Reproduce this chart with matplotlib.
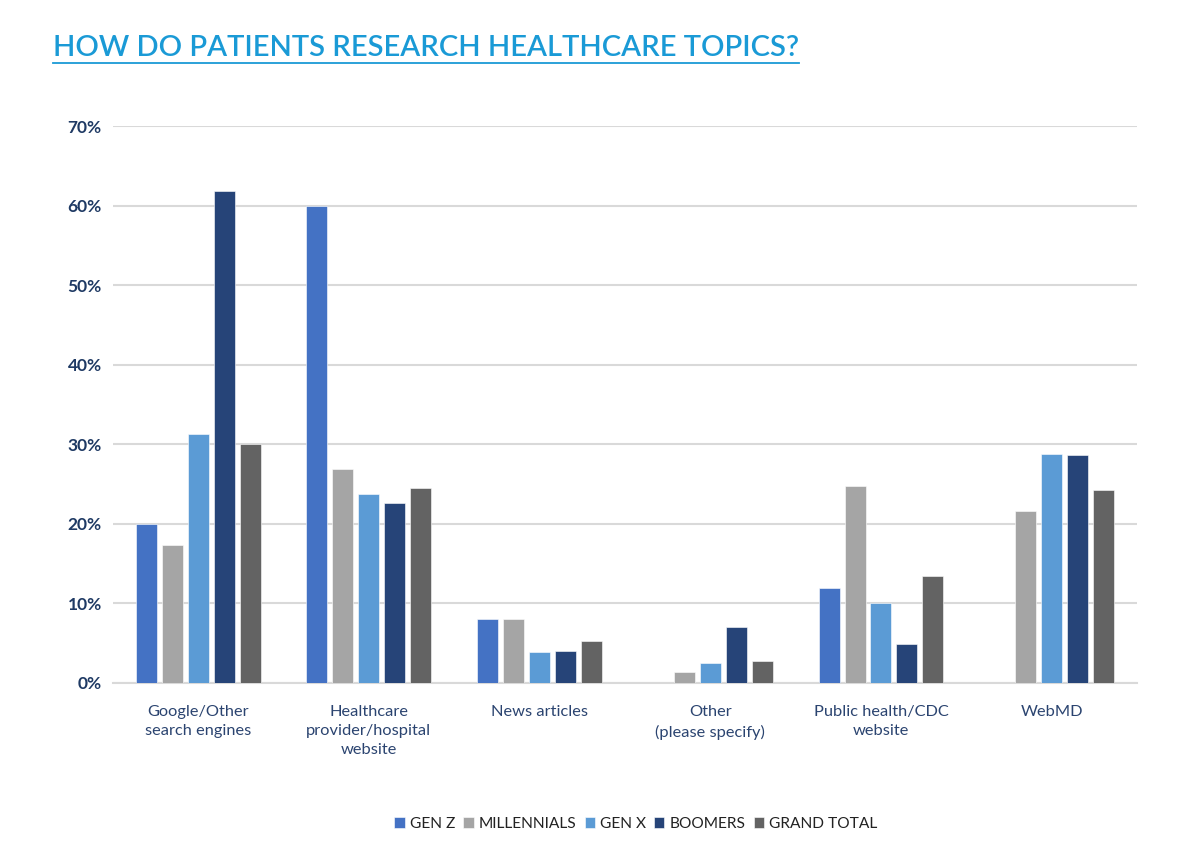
import numpy as np
import matplotlib
matplotlib.use("Agg")
import matplotlib.pyplot as plt
from matplotlib.lines import Line2D

plt.rcParams["font.family"] = ["Lato", "DejaVu Sans"]

categories = ["Google/Other\nsearch engines", "Healthcare\nprovider/hospital\nwebsite",
              "News articles", "Other\n(please specify)", "Public health/CDC\nwebsite", "WebMD"]
series = ["GEN Z", "MILLENNIALS", "GEN X", "BOOMERS", "GRAND TOTAL"]
gen_z = [20.0, 60.0, 8.0, 0.0, 11.9, 0.0]
millennials = [17.4, 26.9, 8.1, 1.35, 24.8, 21.6]
gen_x = [31.3, 23.8, 3.9, 2.5, 10.0, 28.8]
boomers = [61.8, 22.6, 4.0, 7.0, 4.9, 28.7]
grand_total = [30.0, 24.5, 5.3, 2.8, 13.4, 24.2]
colors = ["#4472C4", "#A5A5A5", "#5B9BD5", "#264478", "#636363"]

fig = plt.figure(figsize=(12, 8.55), dpi=100)
ax = fig.add_axes([0.094, 0.2012, 0.8535, 0.6514])

x = np.arange(len(categories))
width = 0.123
step = 0.152
for i, (name, vals) in enumerate(zip(series, [gen_z, millennials, gen_x, boomers, grand_total])):
    ax.bar(x + (i - 2) * step, vals, width, color=colors[i], label=name, zorder=3,
           edgecolor="white", linewidth=0.4)

ax.set_xlim(-0.5, len(categories) - 0.5)
ax.set_ylim(0, 70)
ax.set_yticks(np.arange(0, 71, 10))
ax.set_yticklabels([f"{v}%" for v in range(0, 71, 10)], fontsize=12.5,
                   fontweight="bold", color="#1F3A64")
ax.set_xticks(x)
ax.set_xticklabels(categories, fontsize=11.8, color="#2B4470", linespacing=1.45)
ax.tick_params(axis="both", length=0)
ax.tick_params(axis="x", pad=16)
ax.tick_params(axis="y", pad=8)
ax.grid(axis="y", color="#D9D9D9", linewidth=1.5, zorder=0)
for side in ["top", "right", "left"]:
    ax.spines[side].set_visible(False)
ax.spines["bottom"].set_color("#D9D9D9")
ax.spines["bottom"].set_linewidth(1.5)

fig.legend(loc="lower center", bbox_to_anchor=(0.53, 0.012), ncol=5, frameon=False,
           fontsize=11.2, handlelength=0.66, handleheight=0.66, handletextpad=0.35,
           columnspacing=0.5, labelcolor="#222222")

title_y = 0.9345
title = fig.text(0.044, title_y, "HOW DO PATIENTS RESEARCH HEALTHCARE TOPICS?",
                 fontsize=21, fontweight="semibold", color="#1A9AD6",
                 va="baseline", ha="left")
fig.canvas.draw()
bb = title.get_window_extent().transformed(fig.transFigure.inverted())
line_y = title_y - 0.0078
fig.add_artist(Line2D([bb.x0, bb.x1], [line_y, line_y],
                      color="#1A9AD6", linewidth=1.3, transform=fig.transFigure))

fig.savefig("out.png", dpi=100, facecolor="white")
